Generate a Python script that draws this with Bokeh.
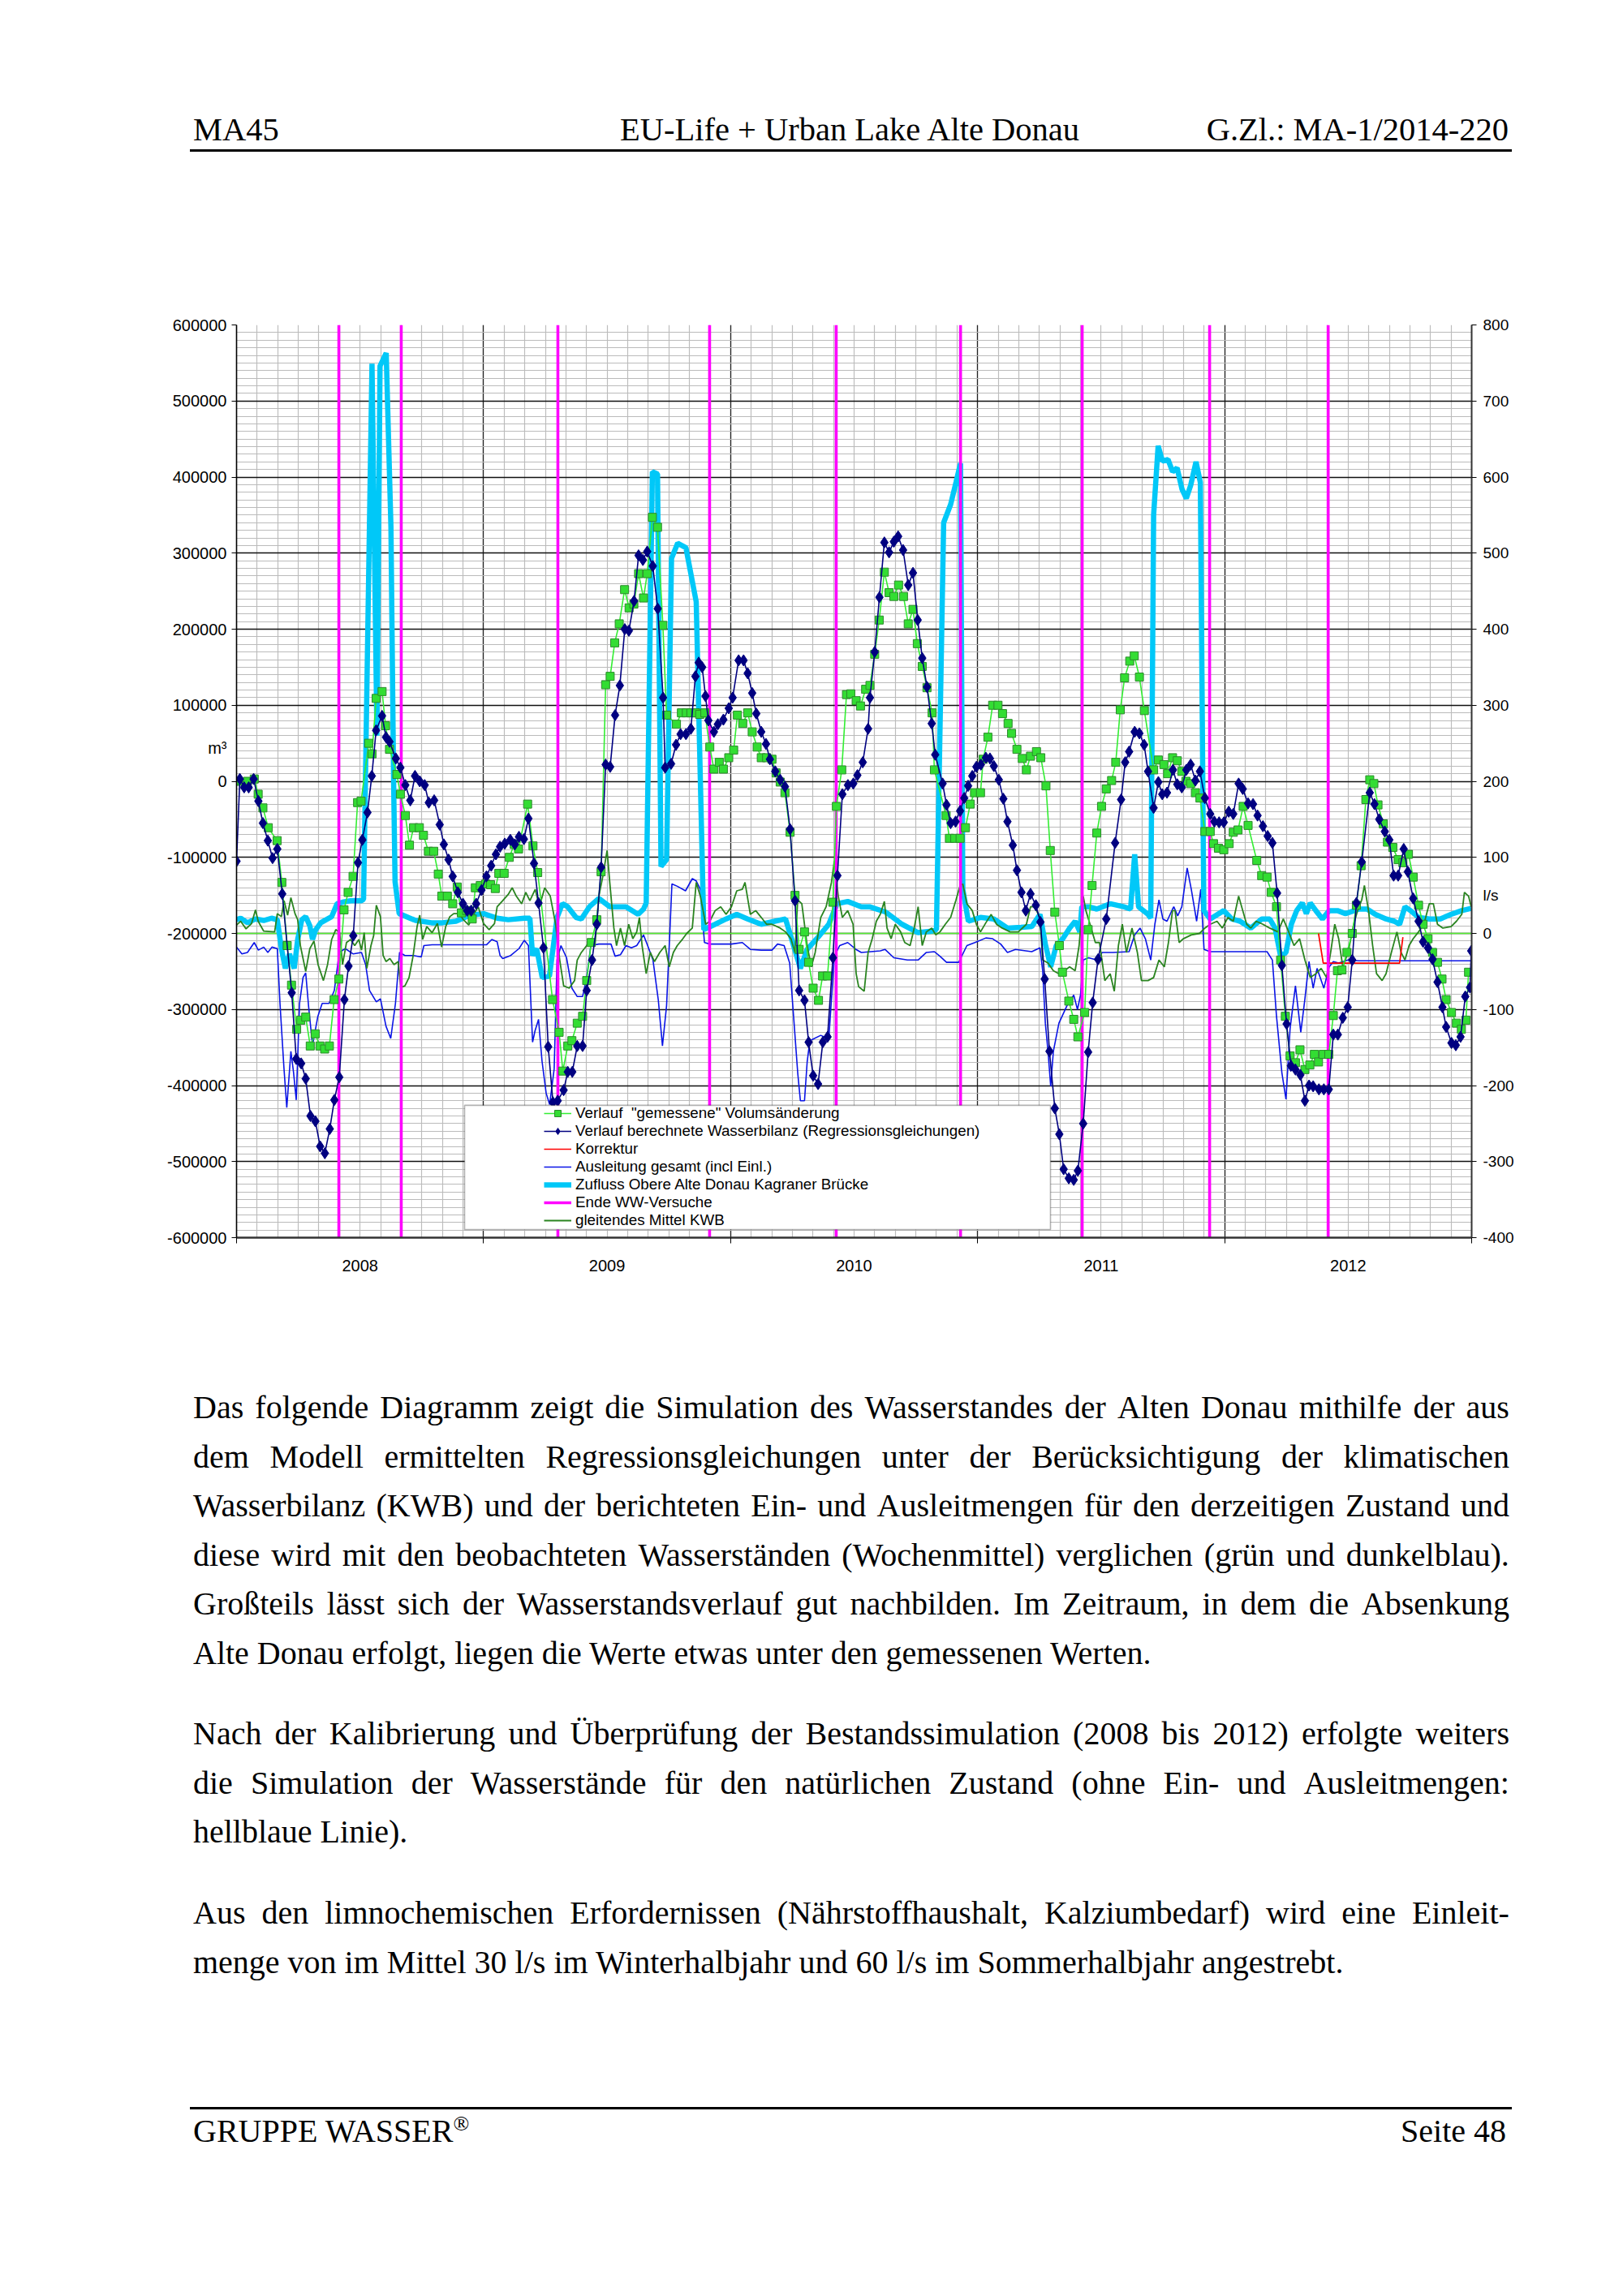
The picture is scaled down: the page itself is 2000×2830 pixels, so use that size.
from bokeh.plotting import figure
from bokeh.models import (Range1d, LinearAxis, FixedTicker, CustomJSTickFormatter,
                          Legend, LegendItem, BoxAnnotation, Span, Div)
from bokeh.layouts import column
from bokeh.embed import file_html
from bokeh.resources import INLINE

# ---------------- data (x = months since Jan 2008) ----------------
# "gemessene" Volumsaenderung, 1000 m3
gem_m = [0.07, 0.53, 0.86, 1.05, 1.28, 1.54, 1.97, 2.2, 2.46, 2.67, 2.92, 3.12, 3.36, 3.58, 3.82, 4.05, 4.28, 4.51,
         4.74, 4.97, 5.22, 5.42, 5.66, 5.88, 6.05, 6.42, 6.58, 6.78, 7.07, 7.24, 7.43, 7.79, 7.96, 8.2, 8.4, 8.6,
         8.88, 9.08, 9.32, 9.58, 9.8, 9.97, 10.24, 10.5, 10.72, 10.92, 11.18, 11.45, 11.6, 11.84, 12.1, 12.34,
         12.57, 12.74, 13.0, 13.25, 13.49, 13.7, 14.14, 14.4, 14.63, 15.35, 15.67, 15.85, 16.09, 16.29, 16.55,
         16.81, 17.01, 17.23, 17.5, 17.71, 17.93, 18.15, 18.37, 18.59, 18.85, 19.07, 19.3, 19.53, 19.77, 19.95,
         20.2, 20.45, 20.71, 20.89, 21.37, 21.61, 21.85, 22.07, 22.3, 22.5, 22.75, 22.99, 23.19, 23.45, 23.65,
         23.91, 24.15, 24.33, 24.59, 24.83, 25.05, 25.29, 25.49, 25.75, 26.01, 26.21, 26.41, 26.64, 26.89, 27.13,
         27.33, 27.59, 27.79, 28.01, 28.27, 28.47, 28.71, 28.97, 29.14, 29.4, 29.63, 29.84, 30.1, 30.31, 30.56,
         30.77, 31.0, 31.22, 31.47, 31.7, 31.93, 32.16, 32.4, 32.63, 32.86, 33.07, 33.31, 33.54, 33.79, 33.9,
         34.47, 34.63, 34.89, 35.15, 35.41, 35.64, 35.85, 36.14, 36.27, 36.5, 36.73, 36.99, 37.21, 37.48, 37.65,
         37.91, 38.17, 38.37, 38.57, 38.86, 39.07, 39.32, 39.53, 39.75, 39.97, 40.12, 40.43, 40.67, 40.87, 41.2,
         41.37, 41.56, 41.79, 42.02, 42.25, 42.51, 42.71, 42.93, 43.14, 43.39, 43.61, 43.86, 44.1, 44.55, 44.78,
         45.05, 45.23, 45.47, 45.7, 45.92, 46.12, 46.35, 46.58, 46.8, 47.04, 47.3, 47.46, 47.7, 47.96, 48.22,
         48.42, 48.65, 48.9, 49.14, 49.56, 49.8, 50.06, 50.26, 50.52, 50.72, 50.95, 51.18, 51.44, 51.66, 51.9,
         52.14, 52.36, 52.56, 52.79, 53.06, 53.28, 53.48, 53.7, 53.94, 54.2, 54.4, 54.63, 54.86, 55.05, 55.25,
         55.45, 55.71, 55.91, 56.17, 56.43, 56.66, 56.93, 57.16, 57.42, 57.64, 57.88, 58.1, 58.34, 58.56, 58.76,
         59.02, 59.26, 59.5, 59.72, 59.85]
gem_v = [0, 0, 3, -17, -35, -61, -78, -133, -216, -268, -326, -314, -310, -348, -332, -348, -352, -348,
         -287, -260, -169, -146, -125, -28, -26, 50, 36, 109, 118, 73, 42, 9, -17, -45, -84, -61,
         -61, -71, -92, -92, -122, -151, -151, -161, -139, -173, -170, -181, -140, -137, -135, -136,
         -141, -121, -121, -100, -83, -89, -30, -85, -120, -287, -330, -381, -348, -341, -318,
         -309, -262, -212, -182, -119, 127, 138, 182, 207, 252, 228, 233, 273, 241, 273,
         347, 334, 205, 87, 75, 90, 90, 90, 90, 88, 90, 45, 16, 25, 16,
         31, 41, 87, 76, 90, 65, 45, 31, 31, 29, 11, -1, -15, -67, -150,
         -221, -198, -238, -272, -288, -256, -256, -159, -33, 15, 114, 115, 106, 99, 121,
         126, 167, 212, 275, 248, 243, 258, 243, 207, 226, 181, 151, 123, 90, 15,
         -45, -75, -75, -75, -61, -30, -15, -15, 29, 58, 100, 100, 89, 76, 63,
         42, 30, 15, 33, 39, 31, -6, -91, -172, -216, -251, -289, -313, -336, -304,
         -195, -137, -68, -33, -10, 1, 25, 94, 136, 158, 165, 137, 93, 15, 28,
         22, 10, 31, 27, 13, 0, -3, -15, -22, -66, -66, -82, -88, -90, -82,
         -67, -64, -33, -58, -104, -124, -126, -146, -165, -235, -309, -361, -370, -353, -379,
         -373, -359, -369, -359, -359, -308, -249, -248, -225, -200, -163, -111, -24, 2, -3,
         -31, -56, -80, -87, -103, -107, -96, -126, -163, -188, -207, -225, -238, -260, -287,
         -304, -318, -326, -314, -251]

# berechnete Wasserbilanz (Regressionsgleichungen), 1000 m3
ber_m = [0.0, 0.16, 0.37, 0.59, 0.83, 1.06, 1.28, 1.52, 1.75, 1.98, 2.22, 2.68, 2.9, 3.14, 3.36, 3.59, 3.83, 4.06,
         4.29, 4.53, 4.75, 4.99, 5.24, 5.44, 5.67, 5.9, 6.11, 6.36, 6.57, 6.78, 7.07, 7.26, 7.43, 7.74, 7.96, 8.2,
         8.44, 8.67, 8.9, 9.14, 9.34, 9.6, 9.87, 10.07, 10.3, 10.5, 10.75, 11.0, 11.2, 11.4, 11.64, 11.9, 12.14,
         12.37, 12.6, 12.8, 13.03, 13.3, 13.52, 13.72, 13.96, 14.18, 14.45, 14.67, 14.91, 15.14, 15.37, 15.6,
         15.89, 16.09, 16.31, 16.55, 16.81, 17.01, 17.27, 17.5, 17.71, 17.93, 18.15, 18.39, 18.62, 18.86, 19.06,
         19.31, 19.53, 19.74, 19.95, 20.22, 20.46, 20.72, 20.82, 21.11, 21.35, 21.57, 21.83, 22.07, 22.29, 22.45,
         22.62, 22.78, 22.92, 23.19, 23.38, 23.65, 23.91, 24.1, 24.39, 24.63, 24.83, 25.05, 25.25, 25.49, 25.72,
         25.91, 26.17, 26.41, 26.64, 26.89, 27.13, 27.33, 27.59, 27.79, 28.01, 28.25, 28.48, 28.71, 28.97, 29.19,
         29.43, 29.7, 29.96, 30.16, 30.42, 30.68, 30.77, 31.0, 31.23, 31.47, 31.7, 31.93, 32.14, 32.38, 32.63,
         32.86, 33.09, 33.31, 33.54, 33.77, 33.94, 34.3, 34.49, 34.69, 34.93, 35.15, 35.35, 35.54, 35.74, 35.94,
         36.16, 36.4, 36.6, 36.79, 37.03, 37.25, 37.45, 37.71, 37.91, 38.13, 38.34, 38.57, 38.83, 39.05, 39.26,
         39.49, 39.75, 39.97, 40.18, 40.43, 40.67, 40.87, 41.13, 41.37, 41.59, 41.85, 42.25, 42.68, 42.97, 43.17,
         43.36, 43.63, 43.86, 44.09, 44.28, 44.55, 44.78, 44.97, 45.2, 45.49, 45.7, 45.92, 46.14, 46.35, 46.58,
         46.8, 47.04, 47.3, 47.5, 47.73, 47.96, 48.2, 48.42, 48.68, 48.88, 49.14, 49.38, 49.6, 49.86, 50.09,
         50.32, 50.55, 50.78, 51.01, 51.22, 51.44, 51.68, 51.9, 52.1, 52.3, 52.58, 52.82, 53.06, 53.28, 53.5,
         53.74, 53.98, 54.2, 54.4, 54.66, 55.05, 55.28, 55.51, 55.78, 56.0, 56.21, 56.43, 56.7, 56.9, 57.16,
         57.42, 57.64, 57.88, 58.1, 58.34, 58.58, 58.76, 59.02, 59.23, 59.46, 59.69, 59.92, 59.98]
ber_v = [-105, 3, -8, -8, 3, -26, -55, -78, -101, -89, -148, -278, -365, -371, -391, -440, -447, -480,
         -489, -457, -419, -389, -287, -243, -203, -107, -77, -41, 7, 67, 86, 58, 52, 30, 18, -5,
         -25, 7, 0, -5, -28, -25, -57, -83, -103, -125, -146, -161, -170, -170, -161, -143, -125,
         -111, -96, -86, -82, -77, -83, -73, -76, -49, -108, -160, -219, -349, -422, -420,
         -406, -382, -382, -348, -348, -275, -235, -188, -113, 22, 19, 87, 126, 200, 198,
         237, 297, 291, 302, 283, 227, 110, 18, 23, 48, 62, 62, 69, 138, 156,
         150, 112, 80, 65, 75, 81, 96, 110, 159, 159, 142, 116, 89, 65, 49,
         29, 13, 2, -7, -63, -157, -275, -288, -343, -387, -398, -343, -336, -232, -124,
         -17, -5, -3, 8, 25, 69, 110, 170, 242, 314, 301, 315, 322, 304, 258,
         274, 212, 162, 124, 76, 35, -3, -31, -55, -53, -39, -22, -6, 7, 19,
         22, 31, 30, 20, 2, -23, -53, -84, -117, -146, -170, -148, -163, -185, -260,
         -355, -430, -464, -510, -522, -524, -512, -450, -356, -291, -234, -181, -81, -24, 25,
         39, 65, 63, 48, 13, -35, -1, -17, -15, 15, -4, -8, 15, 22, 1,
         13, -22, -43, -53, -54, -54, -40, -43, -3, -10, -29, -30, -45, -59, -72,
         -81, -147, -242, -319, -374, -379, -386, -420, -400, -401, -405, -405, -405, -333, -333,
         -311, -297, -235, -160, -106, -15, -30, -50, -66, -77, -124, -124, -89, -119, -154,
         -184, -211, -219, -234, -264, -297, -323, -344, -347, -336, -283, -271, -223]

# Korrektur, l/s
kor_m = [52.56, 52.79, 56.5, 56.66]
kor_v = [0, -39, -39, -5]

# Ausleitung gesamt (incl Einl.), l/s
aus_m = [0.0, 0.26, 0.53, 0.86, 1.06, 1.32, 1.52, 1.72, 1.98, 2.11, 2.3, 2.44, 2.64, 2.77, 2.9, 3.06, 3.23, 3.36,
         3.5, 3.69, 3.95, 4.16, 4.49, 4.75, 4.99, 5.28, 5.67, 6.07, 6.27, 6.46, 6.79, 6.99, 7.26, 7.49, 7.72, 7.92,
         8.18, 8.58, 8.97, 9.1, 9.5, 10.03, 10.69, 11.35, 12.14, 12.4, 12.66, 12.8, 12.93, 13.32, 13.72, 13.98,
         14.18, 14.38, 14.5, 14.67, 14.84, 15.04, 15.21, 15.43, 15.57, 15.76, 16.03, 16.29, 16.55, 16.81, 17.01,
         17.21, 17.6, 18.0, 18.19, 18.39, 18.65, 18.92, 19.18, 19.44, 19.77, 19.97, 20.23, 20.49, 20.69, 20.89,
         21.02, 21.15, 21.41, 21.81, 22.14, 22.33, 22.53, 22.73, 22.99, 24.04, 24.57, 24.96, 25.49, 26.01, 26.28,
         26.6, 26.87, 27.06, 27.26, 27.39, 27.59, 27.72, 27.85, 28.38, 28.77, 29.04, 29.3, 29.69, 30.09, 30.35,
         31.27, 31.5, 31.93, 32.59, 33.11, 33.51, 33.9, 34.17, 34.49, 35.08, 35.48, 35.87, 36.4, 36.73, 37.12,
         37.45, 37.84, 38.63, 39.03, 39.16, 39.29, 39.42, 39.55, 39.68, 39.95, 40.34, 40.67, 40.85, 41.0, 41.13,
         41.39, 41.79, 42.05, 42.57, 43.36, 43.63, 43.89, 44.15, 44.41, 44.61, 44.81, 45.0, 45.2, 45.47, 45.53,
         45.72, 45.92, 46.18, 46.38, 46.64, 46.84, 47.0, 47.3, 48.61, 50.06, 50.32, 50.52, 50.78, 50.98, 51.18,
         51.44, 51.7, 51.9, 52.1, 52.3, 52.49, 52.82, 53.08, 53.28, 53.54, 54.0, 54.53, 59.98]
aus_v = [-18, -27, -25, -12, -22, -18, -25, -18, -20, -92, -176, -229, -155, -183, -219, -92, -58, -52,
         -96, -147, -109, -92, -92, -75, -25, -20, -27, -25, -41, -75, -90, -86, -122, -138, -92, -25,
         -29, -29, -31, -16, -15, -15, -15, -15, -15, -8, -11, -29, -33, -29, -20, -9,
         -16, -143, -128, -113, -168, -210, -225, -178, -35, -16, -32, -72, -83, -83, -58,
         -16, -14, -14, -14, -30, -28, -16, -19, -16, -2, -16, -35, -88, -148, -95,
         -16, 65, 62, 56, 72, 69, 58, -12, -14, -14, -12, -21, -22, -22, -14,
         -16, -39, -109, -183, -220, -220, -169, -141, -134, -139, -30, -16, -12, -21, -25,
         -23, -21, -32, -35, -35, -25, -24, -30, -38, -38, -16, -12, -6, -7, -14,
         -25, -21, -24, -19, -49, -118, -155, -201, -155, -118, -95, -81, -100, -81, -35,
         -32, -35, -25, -25, -24, -2, 7, -7, -35, 12, 44, 19, 16, 32, 35,
         23, 35, 86, 58, 16, 58, -21, -24, -24, -24, -35, -109, -183, -218, -125,
         -69, -130, -86, -37, -72, -46, -72, -44, -37, -39, -35, -36, -36]

# Zufluss Obere Alte Donau Kagraner Bruecke, l/s
zuf_m = [0.0, 0.2, 0.53, 0.92, 1.32, 1.7, 1.98, 2.18, 2.37, 2.57, 2.8, 2.97, 3.17, 3.36, 3.56, 3.69, 3.85, 4.09,
         4.35, 4.62, 4.88, 5.15, 5.54, 6.07, 6.17, 6.58, 6.82, 6.97, 7.27, 7.5, 7.63, 7.7, 7.9, 8.7, 9.47, 10.0,
         10.66, 11.35, 12.0, 12.66, 13.2, 13.98, 14.25, 14.38, 14.58, 14.85, 15.2, 15.57, 15.83, 16.09, 16.49,
         16.75, 17.14, 17.6, 18.13, 18.92, 19.51, 19.77, 19.9, 20.2, 20.45, 20.62, 20.89, 21.13, 21.43, 21.83,
         22.33, 22.7, 23.25, 23.78, 24.3, 24.83, 25.49, 26.14, 26.67, 27.06, 27.39, 27.72, 28.25, 28.77, 29.17,
         29.69, 30.35, 30.75, 31.54, 32.33, 33.11, 33.77, 34.0, 34.35, 34.69, 34.95, 35.17, 35.28, 35.55, 36.14,
         36.79, 37.45, 38.11, 38.63, 39.03, 39.29, 39.55, 39.82, 40.14, 40.47, 40.74, 40.97, 41.06, 41.39, 41.79,
         42.44, 43.1, 43.43, 43.63, 43.82, 44.28, 44.41, 44.55, 44.77, 44.98, 45.25, 45.47, 45.69, 45.93, 46.14,
         46.35, 46.61, 46.82, 46.99, 47.3, 47.96, 48.35, 48.75, 49.27, 49.8, 50.19, 50.45, 50.72, 50.98, 51.24,
         51.5, 51.77, 51.97, 52.16, 52.43, 52.75, 53.08, 53.48, 53.87, 54.53, 54.92, 55.32, 55.84, 56.24, 56.5,
         56.76, 57.03, 57.42, 57.94, 58.47, 59.0, 59.52, 59.98]
zuf_v = [18, 20, 14, 19, 17, 20, 18, -20, -46, -27, -46, -8, 18, 22, 10, -8, 5, 14,
         18, 22, 39, 41, 43, 43, 45, 749, 260, 746, 763, 534, 200, 68, 26, 17, 14, 14,
         16, 24, 26, 20, 18, 20, 20, -29, -20, -58, -56, 21, 39, 35, 21,
         19, 35, 46, 35, 35, 25, 32, 40, 607, 604, 88, 97, 493, 513, 507,
         436, 5, 12, 19, 25, 19, 12, 16, 19, -16, -46, -21, -5, 12, 39,
         42, 35, 35, 28, 12, 1, 3, 5, 540, 564, 593, 618, 58, 16, 21,
         19, 7, 8, 9, 25, -14, -44, -16, -7, 7, 16, 2, 35, 35, 32,
         39, 35, 32, 104, 35, 25, 20, 550, 641, 621, 623, 607, 612, 584, 572,
         589, 620, 593, 30, 19, 30, 19, 16, 7, 19, 19, 7, -30, -25, 12,
         30, 40, 26, 40, 30, 19, 30, 30, 26, 32, 32, 25, 19, 16, 12,
         35, 30, 21, 19, 19, 25, 30, 33]

# Ende WW-Versuche (months)
ww_m = [4.97, 8.0, 15.61, 22.98, 29.13, 35.17, 41.08, 47.27, 53.03]

# gleitendes Mittel KWB, l/s
kwb_m = [0.0, 0.2, 0.46, 0.73, 0.92, 1.05, 1.32, 1.85, 1.98, 2.18, 2.31, 2.48, 2.64, 2.84, 2.97, 3.1, 3.36, 3.56,
         3.76, 3.96, 4.22, 4.42, 4.62, 4.82, 5.01, 5.15, 5.34, 5.54, 5.74, 5.94, 6.07, 6.2, 6.33, 6.53, 6.66, 6.79,
         6.99, 7.12, 7.26, 7.45, 7.65, 7.85, 7.98, 8.18, 8.38, 8.58, 8.77, 8.9, 9.04, 9.24, 9.5, 9.76, 9.96, 10.16,
         10.36, 10.55, 10.82, 11.02, 11.28, 11.54, 11.74, 12.0, 12.27, 12.53, 12.66, 12.93, 13.19, 13.39, 13.59,
         13.85, 14.05, 14.25, 14.51, 14.71, 14.97, 15.24, 15.5, 15.7, 15.89, 16.16, 16.42, 16.55, 16.75, 17.01,
         17.21, 17.41, 17.6, 17.8, 18.0, 18.13, 18.33, 18.46, 18.65, 18.85, 19.05, 19.25, 19.44, 19.57, 19.7,
         19.9, 20.1, 20.3, 20.56, 20.82, 21.02, 21.22, 21.41, 21.68, 21.87, 22.14, 22.33, 22.53, 22.79, 22.99,
         23.25, 23.52, 23.78, 24.04, 24.3, 24.57, 24.7, 24.96, 25.22, 25.49, 25.75, 26.01, 26.41, 26.67, 26.93,
         27.13, 27.26, 27.46, 27.72, 27.92, 28.11, 28.38, 28.64, 28.9, 29.04, 29.23, 29.43, 29.69, 29.95, 30.1,
         30.22, 30.49, 30.68, 30.88, 31.08, 31.27, 31.47, 31.6, 31.8, 32.0, 32.26, 32.46, 32.72, 32.92, 33.11,
         33.31, 33.51, 33.77, 33.97, 34.17, 34.43, 34.69, 34.95, 35.15, 35.28, 35.48, 35.74, 35.94, 36.14, 36.4,
         36.66, 36.92, 37.19, 37.58, 37.98, 38.37, 38.57, 38.76, 39.03, 39.16, 39.42, 39.68, 39.95, 40.21, 40.47,
         40.74, 40.93, 41.13, 41.26, 41.46, 41.72, 41.92, 42.18, 42.44, 42.64, 42.84, 43.03, 43.23, 43.5, 43.76,
         43.96, 44.28, 44.55, 44.81, 45.07, 45.27, 45.47, 45.59, 45.79, 45.99, 46.38, 46.78, 47.04, 47.3, 47.63,
         47.89, 48.16, 48.42, 48.68, 48.88, 49.07, 49.27, 49.53, 49.86, 50.19, 50.59, 50.85, 51.11, 51.37, 51.64,
         51.9, 52.16, 52.43, 52.69, 52.95, 53.15, 53.35, 53.54, 53.74, 54.0, 54.27, 54.46, 54.66, 54.79, 54.99,
         55.19, 55.38, 55.65, 55.84, 56.1, 56.37, 56.57, 56.76, 56.96, 57.16, 57.42, 57.68, 57.94, 58.14, 58.34,
         58.6, 59.0, 59.26, 59.52, 59.65, 59.85, 59.98]
kwb_v = [11, 16, 6, 13, 31, 16, 3, 2, 26, 22, 43, 24, 47, 26, 18, -16, -50, -20,
         -10, -41, -62, -41, -8, 5, 1, -41, -12, -8, -16, -8, -22, 1, -46, -16, -3, 37,
         22, -29, -37, -33, -41, -37, -71, -69, -58, -29, 9, 24, -8, 9, 1, 13, -18, 9,
         22, 26, 26, 18, 11, 26, 35, 13, 5, 13, 35, 43, 51, 60, 49,
         39, 54, 43, 58, 35, 60, 49, 12, -35, -69, -72, -62, -35, -25, -16,
         -7, -16, 49, 76, 109, 67, 7, -16, 7, -16, 12, -7, 2, 21, -16,
         -53, -25, -37, -25, -16, -44, -25, -16, -7, 0, 7, 67, 49, 12, 16,
         30, 35, 25, 35, 56, 58, 67, 25, 30, 21, 12, 12, 7, 2, -7,
         -25, 44, 39, -16, -44, -25, 21, 35, 67, 95, 49, 21, 30, 12, -53,
         -70, -76, -25, -7, 16, 25, 42, 7, -7, 12, 2, -12, -16, 7, 35,
         -16, 2, 7, -2, 2, 12, 21, 44, 63, 65, 39, 30, 12, 2, 14,
         25, 12, 7, 2, 2, 12, 35, 35, 21, -35, -39, -49, -53, -49, -44,
         -49, -16, 49, 30, 12, -12, -12, -62, -53, -76, -16, 12, -25, 7, -25,
         -62, -62, -58, -35, -44, -12, 30, 30, -12, -7, -2, 0, 7, 12, 16,
         7, 21, 16, 49, 30, 12, 7, 16, 12, 7, 2, 19, 2, -16, -7,
         -35, -58, -53, -46, -58, -25, 12, -7, -44, -25, 12, 30, 44, 63, 30,
         -16, -53, -62, -53, -25, 2, -25, -35, -16, -7, 2, 12, 39, 39, 12,
         7, 9, 16, 25, 54, 49, 35]

years = [2008, 2009, 2010, 2011, 2012, 2013]
left_ticks = list(range(-600000, 600001, 100000))
right_ticks = list(range(-400, 801, 100))
left_unit, left_unit_pos = "m³", 43600       # unit caption beside the left axis
right_unit, right_unit_pos = "l/s", 50        # unit caption beside the right axis


def yr(months):
    return [2008 + m / 12.0 for m in months]


def m3(vals):
    return [v * 1000 for v in vals]


# ---------------- figure ----------------
FONT = "Liberation Sans"
Y0, Y1 = -600000, 600000
p = figure(width=1984, height=1432, x_range=Range1d(2008, 2013), y_range=Range1d(Y0, Y1),
           output_backend="svg", toolbar_location=None,
           min_border_left=291, min_border_right=171, min_border_top=190, min_border_bottom=117,
           outline_line_color=None, background_fill_color="white", border_fill_color="white")
p.extra_y_ranges = {"ls": Range1d(-400, 800)}

# grids
p.xgrid[0].ticker = FixedTicker(ticks=years[1:-1],
                                minor_ticks=[2008 + i / 12.0 for i in range(1, 60)])
p.xgrid[0].grid_line_color = "#222222"
p.xgrid[0].grid_line_width = 1.3
p.xgrid[0].minor_grid_line_color = "#BDBDBD"
p.xgrid[0].minor_grid_line_width = 1.2
p.ygrid[0].ticker = FixedTicker(ticks=left_ticks[1:-1],
                                minor_ticks=[v for v in range(-590000, 600000, 10000) if v % 100000 != 0])
p.ygrid[0].grid_line_color = "#111111"
p.ygrid[0].grid_line_width = 1.6
p.ygrid[0].minor_grid_line_color = "#BBBBBB"
p.ygrid[0].minor_grid_line_width = 1.1

# left axis: labels from major ticks (incl. unit caption), visible tick marks from minor ticks
ya = p.yaxis[0]
ya.ticker = FixedTicker(ticks=left_ticks + [left_unit_pos], minor_ticks=left_ticks)
ya.formatter = CustomJSTickFormatter(
    args=dict(u=left_unit, up=left_unit_pos),
    code="return Math.abs(tick - up) < 1 ? u : tick.toFixed(0);")
ya.major_tick_line_color = None
ya.minor_tick_out = 6
ya.minor_tick_in = 0
ya.minor_tick_line_color = "black"
ya.axis_line_width = 1.6
ya.major_label_standoff = 6
ya.major_label_text_font = FONT
ya.major_label_text_font_size = "20px"
ya.major_label_text_color = "black"

# right axis
ra = LinearAxis(y_range_name="ls", ticker=FixedTicker(ticks=right_ticks + [right_unit_pos], minor_ticks=right_ticks))
ra.formatter = CustomJSTickFormatter(
    args=dict(u=right_unit, up=right_unit_pos),
    code="return Math.abs(tick - up) < 0.01 ? u : tick.toFixed(0);")
ra.major_tick_line_color = None
ra.minor_tick_out = 6
ra.minor_tick_in = 0
ra.minor_tick_line_color = "black"
ra.axis_line_width = 2
ra.axis_line_color = "#333333"
ra.major_label_standoff = 8
ra.major_label_text_font = FONT
ra.major_label_text_font_size = "19px"
ra.major_label_text_color = "black"
p.add_layout(ra, "right")

# bottom axis: labels centred in each year, tick marks on year boundaries
xa = p.xaxis[0]
xa.ticker = FixedTicker(ticks=[y + 0.5 for y in years[:-1]], minor_ticks=years)
xa.formatter = CustomJSTickFormatter(code="return String(Math.floor(tick));")
xa.major_tick_out = 0
xa.major_tick_in = 0
xa.minor_tick_out = 7
xa.minor_tick_in = 0
xa.axis_line_width = 2.5
xa.axis_line_color = "#333333"
xa.major_label_standoff = 20
xa.major_label_text_font = FONT
xa.major_label_text_font_size = "20px"
xa.major_label_text_color = "black"

# 0 l/s reference line (light green)
p.add_layout(Span(location=-200000, dimension="width", line_color="#55EE33", line_width=1.5, level="underlay"))

# series
r_aus = p.line(yr(aus_m), aus_v, y_range_name="ls", line_color="#0A14E6", line_width=1.6)
r_zuf = p.line(yr(zuf_m), zuf_v, y_range_name="ls", line_color="#00C8F8", line_width=6.5)
r_kwb = p.line(yr(kwb_m), kwb_v, y_range_name="ls", line_color="#2A8420", line_width=1.8)
r_kor = p.line(yr(kor_m), kor_v, y_range_name="ls", line_color="#FF0000", line_width=1.7)
r_ww = p.segment(x0=yr(ww_m), y0=[Y0] * len(ww_m), x1=yr(ww_m), y1=[Y1] * len(ww_m),
                 line_color="#FF00FF", line_width=3.6)
r_gem_l = p.line(yr(gem_m), m3(gem_v), line_color="#33EE33", line_width=1.6)
r_gem_s = p.scatter(yr(gem_m), m3(gem_v), marker="square", size=10, fill_color="#33DD33",
                    line_color="#2B8A2B", line_width=1)
r_ber_l = p.line(yr(ber_m), m3(ber_v), line_color="#000080", line_width=1.6)
r_ber_s = p.scatter(yr(ber_m), m3(ber_v), marker="diamond", size=14, fill_color="#000080",
                    line_color="#000080", line_width=1)

# legend frame
p.add_layout(BoxAnnotation(left=2008 + (571 - 290) / 304.4, right=2008 + (1293 - 290) / 304.4,
                           top=-426000, bottom=-589300, fill_color="white", fill_alpha=1.0,
                           line_color="black", line_width=1.6, level="annotation"))
items = [
    LegendItem(label='Verlauf  "gemessene" Volumsänderung', renderers=[r_gem_l, r_gem_s]),
    LegendItem(label="Verlauf berechnete Wasserbilanz (Regressionsgleichungen)", renderers=[r_ber_l, r_ber_s]),
    LegendItem(label="Korrektur", renderers=[r_kor]),
    LegendItem(label="Ausleitung gesamt (incl Einl.)", renderers=[r_aus]),
    LegendItem(label="Zufluss Obere Alte Donau Kagraner Brücke", renderers=[r_zuf]),
    LegendItem(label="Ende WW-Versuche", renderers=[r_ww]),
    LegendItem(label="gleitendes Mittel KWB", renderers=[r_kwb]),
]
legend = Legend(items=items, location=(379, 10), orientation="vertical",
                background_fill_alpha=0.0, border_line_alpha=0.0, padding=0, spacing=0, margin=0,
                label_standoff=5, glyph_width=34, glyph_height=20, label_height=20,
                label_text_font=FONT, label_text_font_size="18.8px", label_text_color="black")
p.add_layout(legend)

# ---------------- page texts ----------------
SERIF = "'Liberation Serif', 'Times New Roman', serif"
header_html = f"""
<div style="position:relative;width:1984px;height:200px;font-family:{SERIF};color:#000;font-size:40.5px;line-height:40px;">
  <div style="position:absolute;left:233px;top:135px;white-space:nowrap;">MA45</div>
  <div style="position:absolute;left:1042px;top:135px;white-space:nowrap;transform:translateX(-50%);">EU-Life + Urban Lake Alte Donau</div>
  <div style="position:absolute;right:130px;top:135px;white-space:nowrap;">G.Zl.: MA-1/2014-220</div>
  <div style="position:absolute;left:229px;top:179px;width:1629px;height:3px;background:#000;"></div>
</div>"""

para1 = ["Das folgende Diagramm zeigt die Simulation des Wasserstandes der Alten Donau mithilfe der aus",
         "dem Modell ermittelten Regressionsgleichungen unter der Berücksichtigung der klimatischen",
         "Wasserbilanz (KWB) und der berichteten Ein- und Ausleitmengen für den derzeitigen Zustand und",
         "diese wird mit den beobachteten Wasserständen (Wochenmittel) verglichen (grün und dunkelblau).",
         "Großteils lässt sich der Wasserstandsverlauf gut nachbilden. Im Zeitraum, in dem die Absenkung",
         "Alte Donau erfolgt, liegen die Werte etwas unter den gemessenen Werten."]
para2 = ["Nach der Kalibrierung und Überprüfung der Bestandssimulation (2008 bis 2012) erfolgte weiters",
         "die Simulation der Wasserstände für den natürlichen Zustand (ohne Ein- und Ausleitmengen:",
         "hellblaue Linie)."]
para3 = ["Aus den limnochemischen Erfordernissen (Nährstoffhaushalt, Kalziumbedarf) wird eine Einleit-",
         "menge von im Mittel 30 l/s im Winterhalbjahr und 60 l/s im Sommerhalbjahr angestrebt."]


def para_html(lines, top):
    out = [f'<div style="position:absolute;left:233px;top:{top}px;width:1622px;">']
    for i, ln in enumerate(lines):
        if i < len(lines) - 1:
            words = "".join(f"<span>{w}</span>" for w in ln.split(" "))
            out.append(f'<div style="display:flex;justify-content:space-between;height:60.6px;'
                       f'line-height:60.6px;white-space:nowrap;">{words}</div>')
        else:
            out.append(f'<div style="height:60.6px;line-height:60.6px;white-space:nowrap;">{ln}</div>')
    out.append("</div>")
    return "".join(out)


body_html = f"""
<div style="position:relative;width:1984px;height:1100px;font-family:{SERIF};color:#000;font-size:40px;">
  {para_html(para1, 58)}
  {para_html(para2, 460)}
  {para_html(para3, 681)}
  <div style="position:absolute;left:229px;top:950px;width:1629px;height:3px;background:#000;"></div>
  <div style="position:absolute;left:233px;top:960px;line-height:40px;white-space:nowrap;">GRUPPE WASSER<sup style="font-size:26px;line-height:0;">®</sup></div>
  <div style="position:absolute;right:133px;top:960px;line-height:40px;white-space:nowrap;">Seite 48</div>
</div>"""

header = Div(text=header_html, width=1984, height=200)
body = Div(text=body_html, width=1984, height=1100)

page = column(header, p, body, width=1984, spacing=0)
open("out.html", "w", encoding="utf-8").write(file_html(page, INLINE))
